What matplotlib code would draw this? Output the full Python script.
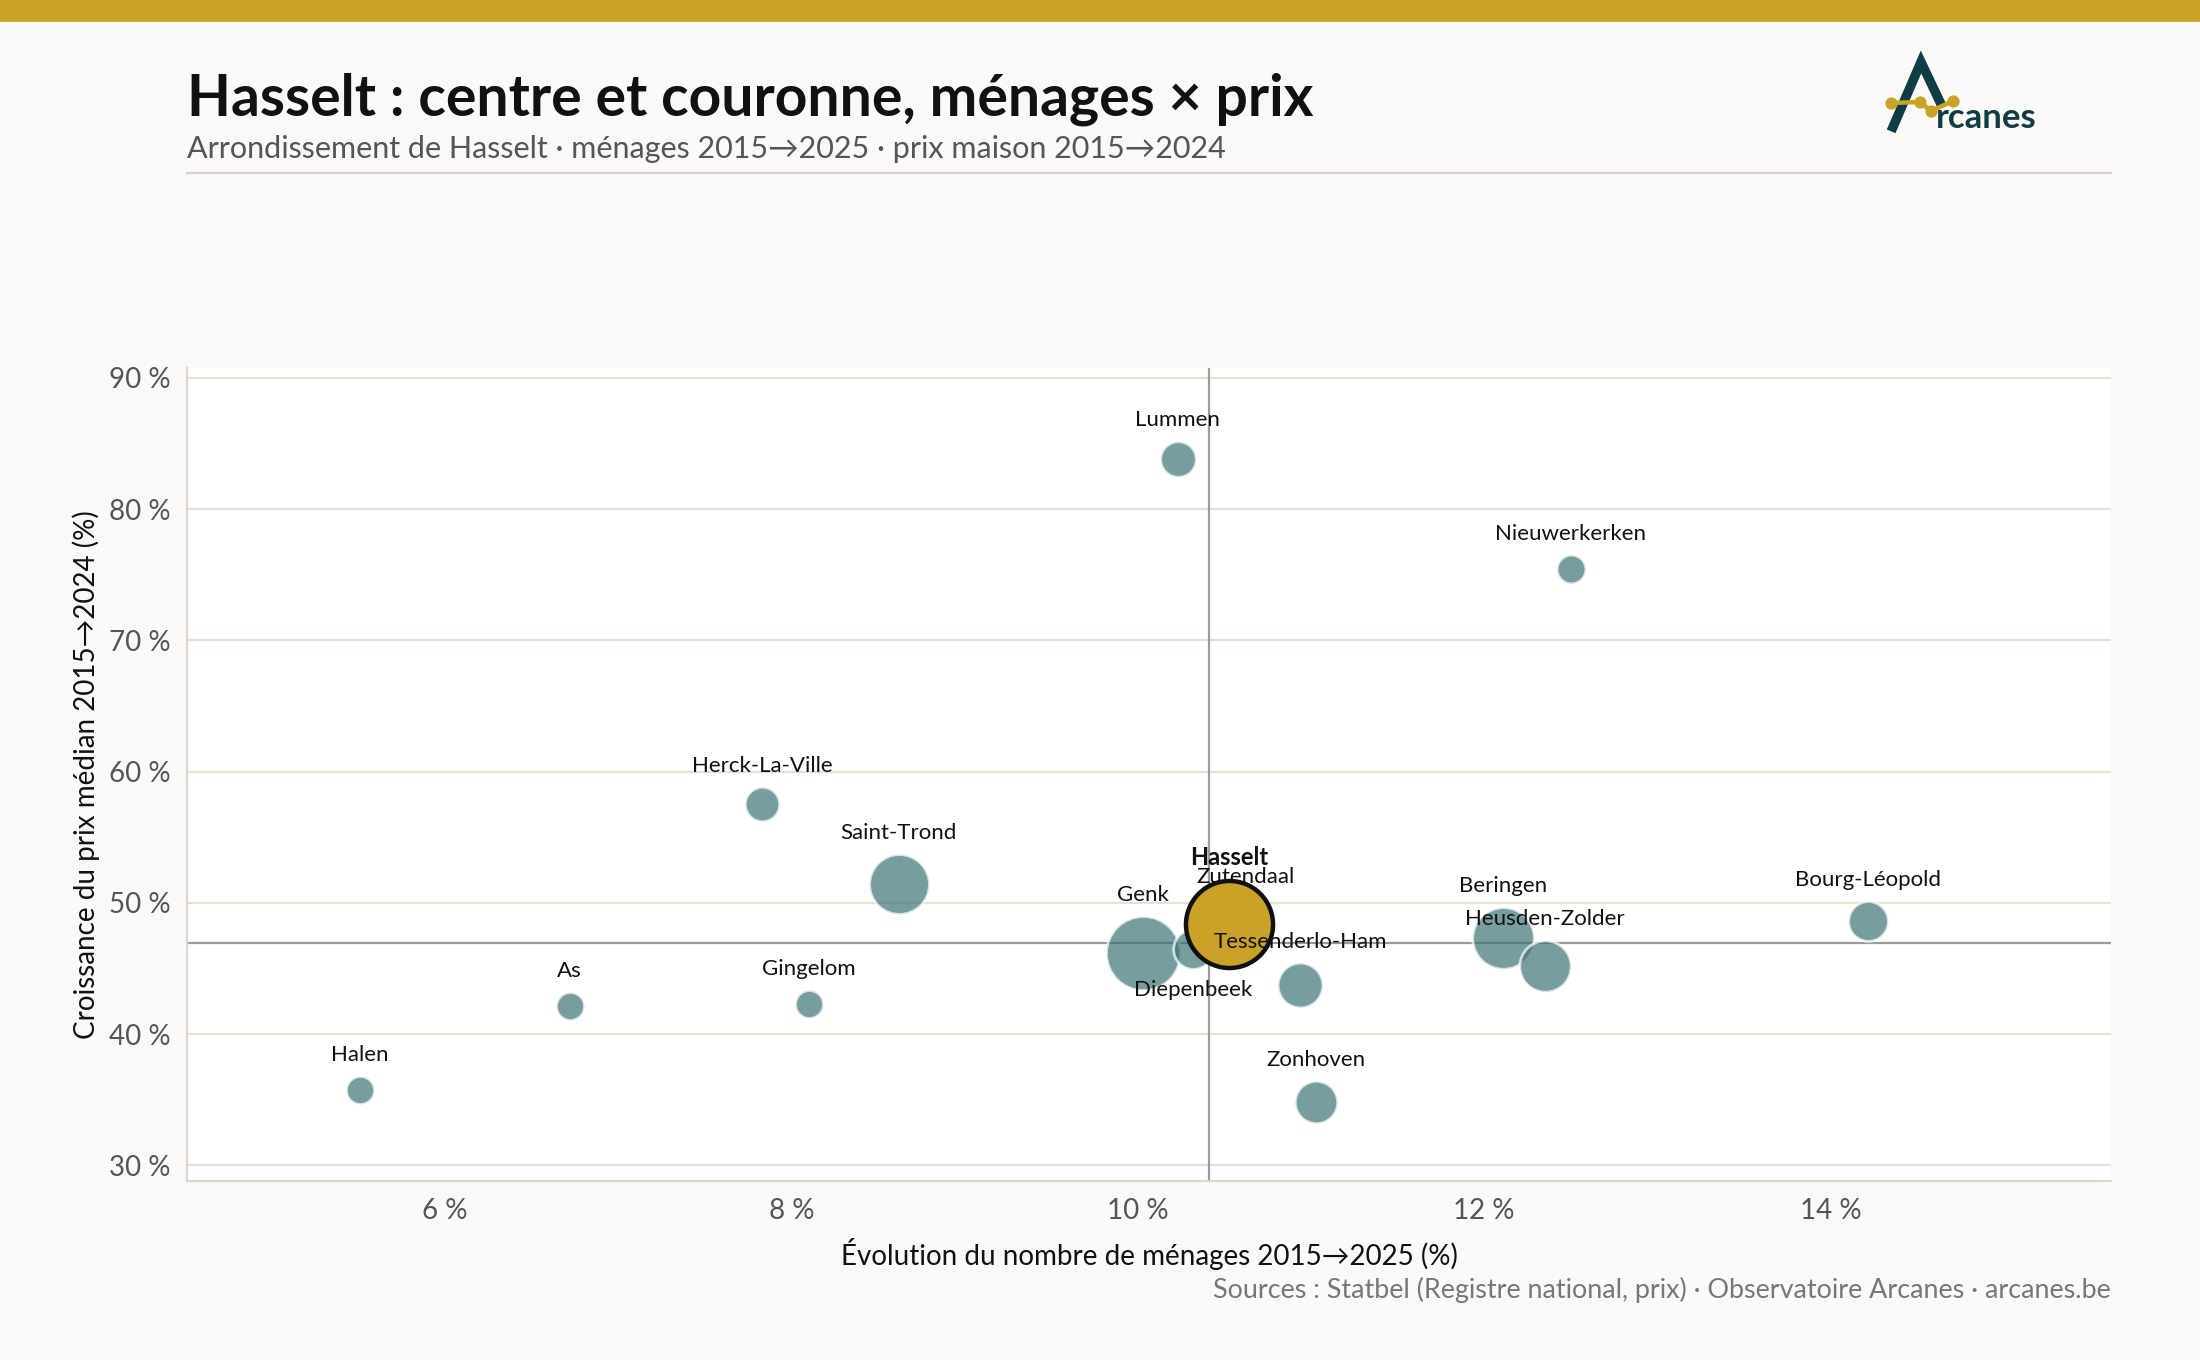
import matplotlib
matplotlib.use("Agg")
import matplotlib.pyplot as plt
from matplotlib.lines import Line2D
from matplotlib.ticker import FuncFormatter, MultipleLocator

# ───────────────────────── data ───────────────────────── #

communes = ["Lummen", "Nieuwerkerken", "Herck-La-Ville", "Saint-Trond", "Genk",
            "Diepenbeek", "Zutendaal", "Tessenderlo-Ham", "Zonhoven", "Beringen",
            "Heusden-Zolder", "Bourg-Léopold", "Gingelom", "As", "Halen", "Hasselt"]
menages_evol = [10.23, 12.50, 7.83, 8.62, 10.03,
                10.32, 10.62, 10.94, 11.03, 12.11,
                12.35, 14.22, 8.10, 6.72, 5.51, 10.53]
prix_evol = [83.8, 75.4, 57.5, 51.4, 46.2,
             46.5, 49.3, 43.7, 34.8, 47.3,
             45.2, 48.6, 42.3, 42.1, 35.7, 48.4]
menages = [6000, 3900, 5600, 17000, 26000,
           7500, 3500, 9500, 8500, 18000,
           12500, 7500, 3700, 3700, 3700, 36000]
label_below = ["Diepenbeek"]
focus = "Hasselt"

ref_x = 10.41   # référence ménages (arrondissement)
ref_y = 46.9    # référence prix

TITLE = "Hasselt : centre et couronne, ménages × prix"
SUBTITLE = "Arrondissement de Hasselt · ménages 2015→2025 · prix maison 2015→2024"
XLABEL = "Évolution du nombre de ménages 2015→2025 (%)"
YLABEL = "Croissance du prix médian 2015→2024 (%)"
SOURCE = "Sources : Statbel (Registre national, prix) · Observatoire Arcanes · arcanes.be"

# ───────────────────────── style ───────────────────────── #

GOLD = "#c9a227"
TEAL = "#3d7475"
DARK = "#0f3d43"
BG = "#faf9f7"
GRID = "#e4e0d4"
INK = "#111111"
MUTED = "#555555"

plt.rcParams["font.family"] = ["Lato", "DejaVu Sans"]

fig = plt.figure(figsize=(11, 6.8), dpi=200, facecolor=BG)
ax = fig.add_axes([0.085, 0.1316, 0.8745, 0.5978])
ax.set_facecolor("white")

SCALE = 982 / 36000  # scatter area per household

def size(m):
    return m * SCALE

order = sorted(range(len(communes)), key=lambda i: -menages[i])
for i in order:
    if communes[i] == focus:
        continue
    ax.scatter(menages_evol[i], prix_evol[i], s=size(menages[i]), color=TEAL,
               alpha=0.7, edgecolor="white", linewidth=1.0, zorder=3)

k = communes.index(focus)
ax.scatter(menages_evol[k], prix_evol[k], s=size(menages[k]), color=GOLD,
           edgecolor=INK, linewidth=1.6, zorder=5)

# labels
for i, name in enumerate(communes):
    r_pt = size(menages[i]) ** 0.5 / 2
    below = name in label_below
    off = -(r_pt + 4) if below else (r_pt + 4)
    bold = name == focus
    ax.annotate(name, (menages_evol[i], prix_evol[i]),
                xytext=(0, off), textcoords="offset points",
                ha="center", va="top" if below else "bottom",
                fontsize=8.5 if bold else 8, fontweight="bold" if bold else "normal",
                color=INK, zorder=6)

ax.axvline(ref_x, color="#9a9a9a", lw=0.8, zorder=2)
ax.axhline(ref_y, color="#9a9a9a", lw=0.8, zorder=2)

ax.set_xlim(4.51, 15.62)
ax.set_ylim(28.8, 90.75)
ax.xaxis.set_major_locator(MultipleLocator(2))
ax.yaxis.set_major_locator(MultipleLocator(10))
ax.xaxis.set_major_formatter(FuncFormatter(lambda v, _: f"{v:.0f} %"))
ax.yaxis.set_major_formatter(FuncFormatter(lambda v, _: f"{v:.0f} %"))
ax.tick_params(length=0, labelsize=10, labelcolor=MUTED, pad=6)
ax.grid(axis="y", color=GRID, lw=0.8, zorder=0)
ax.set_axisbelow(True)
for s in ["top", "right"]:
    ax.spines[s].set_visible(False)
for s in ["left", "bottom"]:
    ax.spines[s].set_color("#ddd8cb")
    ax.spines[s].set_linewidth(0.8)

ax.set_xlabel(XLABEL, fontsize=10, color=INK, labelpad=5)
ax.set_ylabel(YLABEL, fontsize=10, color=INK, labelpad=3)

# ───────────────────────── header / footer ───────────────────────── #

fig.patches.append(plt.Rectangle((0, 1 - 20 / 1360), 1, 20 / 1360,
                                 transform=fig.transFigure, color=GOLD, zorder=0))
fig.text(0.085, 1 - 116 / 1360, TITLE, fontsize=20.5, fontweight="bold", color=INK)
fig.text(0.085, 1 - 158 / 1360, SUBTITLE, fontsize=11, color=MUTED)
fig.add_artist(Line2D([0.085, 0.9595], [1 - 173 / 1360] * 2,
                      transform=fig.transFigure, color="#d9d4c7", lw=0.8))
fig.text(0.9595, 1 - 1298 / 1360, SOURCE, fontsize=9.7, color="#777777", ha="right")

# logo
def fx(px):
    return px / 2200

def fy(py):
    return 1 - py / 1360

fig.add_artist(Line2D([fx(1893), fx(1921), fx(1940)], [fy(127), fy(62), fy(102)],
                      transform=fig.transFigure, color=DARK, lw=3.4,
                      solid_joinstyle="miter"))
gx = [fx(1891), fx(1920), fx(1931), fx(1953)]
gy = [fy(103), fy(102), fy(111), fy(101)]
fig.add_artist(Line2D(gx, gy, transform=fig.transFigure, color=GOLD, lw=1.6,
                      marker="o", markersize=3.4))
fig.text(fx(1936), fy(128), "rcanes", fontsize=12.5, color=DARK, fontweight="bold")

fig.savefig("out.png", dpi=200, facecolor=BG)
